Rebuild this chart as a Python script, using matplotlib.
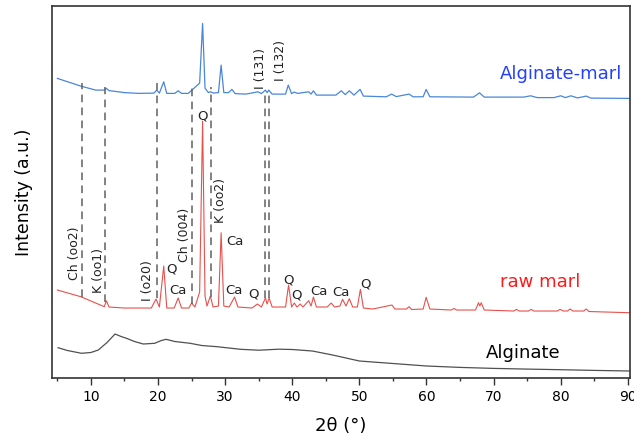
import matplotlib
matplotlib.use("Agg")
import matplotlib.pyplot as plt

# Diffractogrammes (2theta en degres, intensite en u.a.)
alg_x = [5.1, 6.5, 8.6, 10.0, 11.1, 12.4, 13.6, 14.5, 15.3, 16.5, 17.8, 19.5,
         20.5, 21.2, 22.5, 24.8, 26.5, 28.8, 32.3, 35.0, 38.0, 40.0, 43.0,
         46.0, 50.0, 55.0, 60.0, 65.0, 70.0, 75.0, 80.0, 85.0, 90.2]
alg_y = [30.3, 27.5, 24.7, 25.5, 28.0, 35.5, 44.0, 41.5, 39.7, 36.5, 34.0,
         34.7, 37.5, 38.7, 36.5, 34.7, 32.5, 31.3, 28.7, 27.8, 28.8, 28.5,
         27.0, 23.0, 17.0, 14.5, 12.0, 10.6, 9.6, 8.9, 8.3, 7.6, 7.0]

marl_x = [5.0, 8.5, 12.0, 12.3, 12.7, 15.0, 19.0, 19.7, 20.2, 20.85, 21.3,
          22.4, 23.0, 23.5, 24.6, 25.0, 25.5, 26.2, 26.64, 27.0, 27.3, 27.8,
          28.2, 29.0, 29.4, 29.8, 30.6, 31.4, 31.9, 34.0, 34.8, 35.4, 36.0,
          36.25, 36.55, 37.0, 39.0, 39.45, 39.9, 40.3, 40.7, 41.2, 41.6,
          42.45, 42.8, 43.15, 43.6, 45.2, 45.8, 46.3, 47.1, 47.5, 48.0, 48.5,
          49.0, 49.7, 50.15, 50.6, 52.0, 54.85, 55.3, 57.0, 57.4, 57.8, 59.5,
          59.95, 60.5, 63.7, 64.1, 64.5, 67.3, 67.75, 67.95, 68.15, 68.6,
          73.0, 73.4, 73.8, 75.2, 75.6, 76.0, 79.5, 79.9, 80.4, 81.0, 81.4,
          81.8, 83.4, 83.8, 84.2, 90.2]
marl_y = [88.0, 81.3, 71.3, 77.3, 71.0, 70.0, 70.0, 79.0, 71.0, 112.0, 70.0,
          70.0, 80.0, 70.0, 70.0, 75.0, 71.0, 86.0, 257.0, 82.0, 72.0, 82.0,
          71.0, 72.0, 145.3, 72.0, 71.0, 81.0, 71.0, 70.0, 74.0, 71.0, 80.0,
          74.0, 80.0, 71.0, 71.0, 93.0, 71.0, 75.0, 71.0, 74.0, 71.0, 77.3,
          72.0, 81.0, 71.0, 71.0, 75.0, 71.0, 72.0, 78.7, 72.0, 79.3, 71.0,
          71.0, 88.7, 70.0, 69.0, 73.0, 69.0, 69.0, 71.3, 68.5, 69.0, 80.7,
          69.0, 68.0, 69.5, 68.0, 68.0, 75.3, 72.0, 75.3, 68.0, 67.0, 68.7,
          67.0, 67.0, 68.7, 67.0, 67.0, 68.7, 67.0, 67.0, 69.0, 67.0, 67.0,
          69.0, 66.5, 65.3]

am_x = [5.0, 8.5, 10.7, 11.9, 12.3, 12.7, 15.0, 17.2, 19.4, 19.8, 20.2,
        20.85, 21.3, 22.5, 23.0, 23.5, 24.5, 26.2, 26.64, 27.0, 27.5, 27.8,
        28.3, 29.0, 29.4, 29.8, 30.5, 31.0, 31.5, 33.1, 34.9, 35.4, 36.0,
        36.25, 36.5, 37.0, 39.0, 39.4, 39.9, 40.3, 40.8, 42.45, 42.8, 43.15,
        43.6, 46.5, 47.3, 47.9, 48.5, 49.2, 50.1, 50.6, 54.0, 54.8, 55.5,
        57.4, 58.0, 59.5, 59.95, 60.5, 67.0, 67.9, 68.6, 74.5, 75.5, 76.5,
        79.0, 80.0, 80.7, 81.5, 82.5, 83.8, 84.5, 90.2]
am_y = [299.7, 292.0, 288.0, 288.0, 289.7, 287.5, 285.5, 284.7, 285.0, 288.0,
        285.0, 296.3, 284.7, 284.7, 287.3, 284.7, 284.7, 295.0, 354.7, 290.0,
        285.5, 286.3, 285.0, 285.5, 313.0, 285.5, 285.5, 288.7, 284.5, 284.0,
        286.3, 284.5, 288.0, 285.5, 288.0, 284.0, 284.0, 293.0, 284.5, 286.0,
        284.7, 286.3, 284.0, 287.3, 283.0, 283.0, 287.3, 283.5, 287.3, 283.0,
        288.7, 282.0, 281.3, 284.0, 281.5, 284.0, 281.3, 281.3, 288.7, 281.3,
        281.0, 285.3, 281.0, 281.0, 282.3, 280.5, 280.5, 282.3, 280.5, 282.3,
        280.2, 282.0, 280.0, 279.7]

# Lignes de reference en pointilles
ref_x = [8.6, 12.1, 19.9, 25.1, 27.9, 36.0, 36.6]
ref_top = [295.3, 291.0, 295.0, 291.0, 291.0, 287.0, 287.0]
ref_bot = [81.0, 76.3, 80.0, 74.0, 81.0, 80.0, 80.0]

# Plans (hkl) ecrits verticalement
hkl_txt = ["Ch (oo2)", "K (oo1)", "I (o20)", "Ch (004)", "K (oo2)",
           "I (131)", "I (132)"]
hkl_x = [7.6, 11.1, 18.4, 23.9, 29.3, 35.2, 38.2]
hkl_y = [125, 108, 97, 143, 178, 310, 318]

# Phases : Q = quartz, Ca = calcite
phase_txt = ["Q", "Q", "Ca", "Ca", "Ca", "Q", "Q", "Q", "Ca", "Ca", "Q"]
phase_x = [26.6, 22.05, 23.0, 31.45, 31.35, 34.15, 39.47, 40.7, 43.9, 47.2,
           50.9]
phase_y = [262, 108.7, 87.3, 137, 87.5, 84, 98, 83, 86.3, 86, 94]

fig = plt.figure(figsize=(6.34, 4.38), dpi=100)
ax = fig.add_axes([0.082, 0.137, 0.912, 0.849])

ax.plot(alg_x, alg_y, color="#505050", lw=0.9)
ax.plot(marl_x, marl_y, color="#e8504c", lw=0.8)
ax.plot(am_x, am_y, color="#4a86d8", lw=0.9)

ax.vlines(ref_x, ref_bot, ref_top, colors="#606060", linestyles=(0, (5, 3.5)),
          lw=1.1)

for t, x, y in zip(hkl_txt, hkl_x, hkl_y):
    ax.text(x, y, t, rotation=90, ha="center", va="center", fontsize=9,
            color="#222222")

for t, x, y in zip(phase_txt, phase_x, phase_y):
    ax.text(x, y, t, ha="center", va="center", fontsize=9.5, color="#222222")

ax.text(80.0, 298.7, "Alginate-marl", ha="center", va="baseline",
        fontsize=13, color="#2440ff")
ax.text(76.9, 90.7, "raw marl", ha="center", va="baseline", fontsize=13,
        color="#ff1a1a")
ax.text(74.4, 20.0, "Alginate", ha="center", va="baseline", fontsize=13,
        color="black")

ax.set_xlim(4.2, 90.35)
ax.set_ylim(0, 372)
ax.set_xticks(range(10, 91, 10))
ax.set_xticks(range(5, 91, 10), minor=True)
ax.set_yticks([])
ax.tick_params(axis="x", which="major", direction="out", length=4.8,
               width=1, labelsize=10, color="#333333")
ax.tick_params(axis="x", which="minor", direction="out", length=2.4,
               width=1, color="#333333")
for s in ax.spines.values():
    s.set_color("#333333")
    s.set_linewidth(1.2)

ax.set_xlabel("2θ (°)", fontsize=13, labelpad=10)
ax.set_ylabel("Intensity (a.u.)", fontsize=12.5, labelpad=14)

fig.savefig("out.png", dpi=100)
